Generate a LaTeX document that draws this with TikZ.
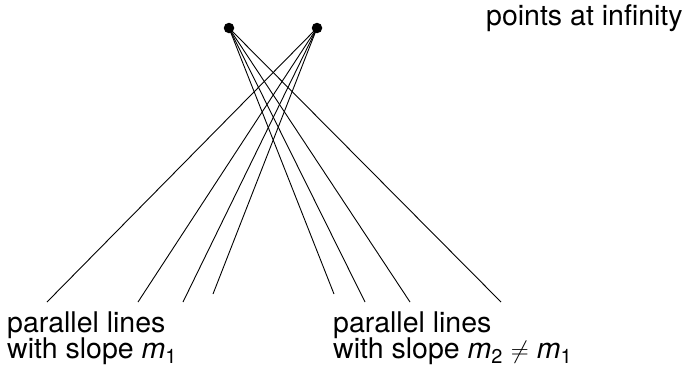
\documentclass[tikz,border=0pt]{standalone}
\usepackage{fontspec}
\setmainfont{TeX Gyre Heros}
\begin{document}
\begin{tikzpicture}[x=1pt,y=-1pt,
  pt/.style={circle,fill=black,inner sep=0pt,minimum size=10.5pt},
  ln/.style={line width=0.9pt},
  lbl/.style={inner sep=0pt,font=\fontsize{28.5}{29}\selectfont}]
\useasboundingbox (0,0) rectangle (688,367);
\node[pt] (P1) at (229,28) {};
\node[pt] (P2) at (317,28) {};
\coordinate (a1) at (47,302);
\coordinate (a2) at (138,302);
\coordinate (a3) at (183,302);
\coordinate (a4) at (213,294);
\coordinate (b1) at (334,294);
\coordinate (b2) at (365,302);
\coordinate (b3) at (410,302);
\coordinate (b4) at (501,302);
\foreach \c in {a1,a2,a3,a4} \draw[ln] (P2.center) -- (\c);
\foreach \c in {b1,b2,b3,b4} \draw[ln] (P1.center) -- (\c);
\node[lbl,anchor=base west] (inf) at (486,25) {points at infinity};
\node[lbl,anchor=base west] (L1) at (7,332) {parallel lines};
\node[lbl,anchor=base west] (L2) at (7,358) {with slope \textit{m}\textsubscript{1}};
\node[lbl,anchor=base west] (R1) at (333,332) {parallel lines};
\node[lbl,anchor=base west] (R2) at (333,358) {with slope \textit{m}\textsubscript{2} $\neq$ \textit{m}\textsubscript{1}};
\end{tikzpicture}
\end{document}
